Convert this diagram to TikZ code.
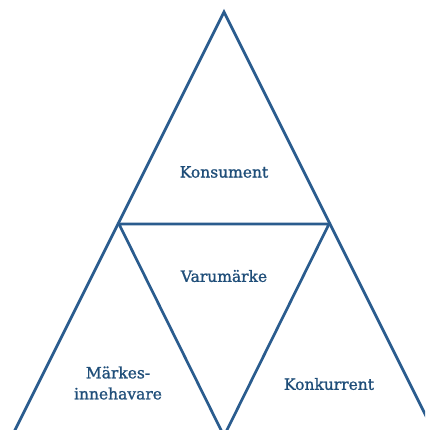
\documentclass[tikz,border=0pt]{standalone}
\usepackage{fontspec}
\setmainfont{DejaVu Serif}[FakeBold=1.2]
\definecolor{linecol}{HTML}{2A5C8E}
\definecolor{textcol}{HTML}{1F4E79}
\begin{document}
\begin{tikzpicture}[x=1pt,y=-1pt,
  edge/.style={draw=linecol,line width=2.7pt,line join=miter},
  lbl/.style={text=textcol,font=\fontsize{15.5}{21}\selectfont,align=center,inner sep=0pt}]
\useasboundingbox (0,0) rectangle (425,430);
\begin{scope}
\clip (0,0) rectangle (425,430);
\coordinate (apex) at (224,12);
\coordinate (bl) at (12,436);
\coordinate (br) at (436,436);
\coordinate (ml) at (119,224);
\coordinate (mr) at (329,224);
\coordinate (mb) at (224,436);
\draw[edge] (bl) -- (apex) -- (br);
\draw[edge] (ml) -- (mr) -- (mb) -- cycle;
\end{scope}
\node[lbl] (kons) at (224,172) {Konsument};
\node[lbl] (varu) at (224,276) {Varumärke};
\node[lbl] (konk) at (329,384) {Konkurrent};
\node[lbl] (mark) at (118,383) {Märkes-\\innehavare};
\end{tikzpicture}
\end{document}
